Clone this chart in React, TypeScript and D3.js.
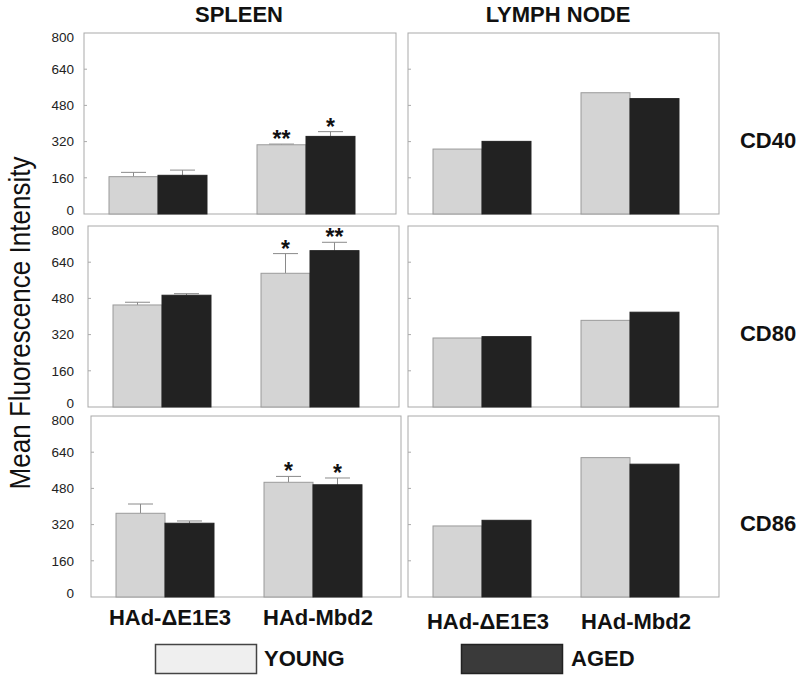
import React from "react";
import * as d3 from "d3";

const groups = ["HAd-ΔE1E3", "HAd-Mbd2"];
const markers = ["CD40", "CD80", "CD86"];
const series = ["YOUNG", "AGED"];
const yTicks = [0, 160, 320, 480, 640, 800];

// rows = markers (CD40, CD80, CD86), columns = groups
const spleenYoung = [[165, 306], [451, 591], [370, 507]];
const spleenYoungErr = [[184, 309], [463, 678], [411, 533]];
const spleenAged = [[171, 343], [494, 691], [326, 496]];
const spleenAgedErr = [[194, 364], [501, 728], [336, 526]];
const spleenYoungSig = [["", "**"], ["", "*"], ["", "*"]];
const spleenAgedSig = [["", "*"], ["", "**"], ["", "*"]];
const lymphYoung = [[287, 536], [305, 383], [314, 616]];
const lymphAged = [[321, 510], [311, 419], [339, 587]];

const W = 800;
const H = 678;
const rowY = [[33, 214], [226, 407], [416, 597]];
const leftX = [[84, 396], [88, 399], [91, 401]];
const rightX = [[408, 719], [408, 718], [408, 719]];

const FONT = "'Liberation Sans', Arial, Helvetica, sans-serif";
const YOUNG_FILL = "#d4d4d4";
const YOUNG_STROKE = "#9a9a9a";
const AGED_FILL = "#222222";
const FRAME = "#a9a9a9";

function Panel({ x0, x1, y0, y1, young, aged, youngErr, agedErr, youngSig, agedSig, showLabels }: any) {
  const y = d3.scaleLinear().domain([0, 800]).range([y1, y0]);
  const x = d3.scaleBand().domain(groups).range([x0, x0 + 296]).paddingInner(0.338).paddingOuter(0.169);
  const xs = d3.scaleBand().domain(series).range([0, x.bandwidth()]);
  const bw = xs.bandwidth();
  const vals = [young, aged];
  const errs = [youngErr, agedErr];
  const sigs = [youngSig, agedSig];
  const labelShift = (t: number) => (t === 800 ? 4.5 : t === 0 ? -4 : 0);
  return (
    <g>
      <rect x={x0} y={y0} width={x1 - x0} height={y1 - y0} fill="white" stroke={FRAME} strokeWidth={1} />
      {yTicks.slice(1, -1).map((t) => (
        <line key={"t" + t} x1={x0} x2={x0 + 3} y1={y(t)} y2={y(t)} stroke="#aaa" strokeWidth={1} />
      ))}
      {showLabels &&
        yTicks.map((t) => (
          <text
            key={"l" + t}
            x={74}
            y={y(t) + labelShift(t)}
            dy="0.36em"
            textAnchor="end"
            fontFamily={FONT}
            fontSize={13.5}
            fill="#222"
          >
            {t}
          </text>
        ))}
      {groups.map((g, gi) =>
        series.map((s, si) => {
          const v = vals[si][gi];
          const bx = (x(g) as number) + (xs(s) as number);
          const cx = bx + bw / 2;
          const e = errs[si] ? errs[si][gi] : null;
          const sig = sigs[si] ? sigs[si][gi] : "";
          return (
            <g key={g + s}>
              {e != null && (
                <g stroke="#8a8a8a" strokeWidth={1}>
                  <line x1={cx} x2={cx} y1={y(v)} y2={y(e)} />
                  <line x1={cx - 12.5} x2={cx + 12.5} y1={y(e)} y2={y(e)} />
                </g>
              )}
              <rect
                x={bx}
                y={y(v)}
                width={bw}
                height={y(0) - y(v)}
                fill={si === 0 ? YOUNG_FILL : AGED_FILL}
                stroke={si === 0 ? YOUNG_STROKE : AGED_FILL}
                strokeWidth={1}
              />
              {sig && e != null && (
                <text x={cx} y={y(e) + 3} textAnchor="middle" fontFamily={FONT} fontWeight="bold" fontSize={23} fill="#111">
                  {sig}
                </text>
              )}
            </g>
          );
        })
      )}
    </g>
  );
}

export default function App() {
  const xLab = d3.scaleBand().domain(groups).range([leftX[2][0], leftX[2][0] + 296]).paddingInner(0.338).paddingOuter(0.169);
  const xLabR = d3.scaleBand().domain(groups).range([rightX[2][0], rightX[2][0] + 296]).paddingInner(0.338).paddingOuter(0.169);
  return (
    <svg width={W} height={H} style={{ position: "absolute", left: 0, top: 0, background: "white" }}>
      <rect x={0} y={0} width={W} height={H} fill="white" />
      <text x={239} y={22} textAnchor="middle" fontFamily={FONT} fontWeight="bold" fontSize={22} fill="#111">
        SPLEEN
      </text>
      <text x={558} y={22} textAnchor="middle" fontFamily={FONT} fontWeight="bold" fontSize={22} fill="#111">
        LYMPH NODE
      </text>
      <text
        transform="translate(30,323) rotate(-90)"
        textAnchor="middle"
        fontFamily={FONT}
        fontSize={29}
        textLength={333}
        lengthAdjust="spacingAndGlyphs"
        fill="#111"
      >
        Mean Fluorescence Intensity
      </text>
      {markers.map((m, mi) => (
        <g key={m}>
          <Panel
            x0={leftX[mi][0]}
            x1={leftX[mi][1]}
            y0={rowY[mi][0]}
            y1={rowY[mi][1]}
            young={spleenYoung[mi]}
            aged={spleenAged[mi]}
            youngErr={spleenYoungErr[mi]}
            agedErr={spleenAgedErr[mi]}
            youngSig={spleenYoungSig[mi]}
            agedSig={spleenAgedSig[mi]}
            showLabels={true}
          />
          <Panel
            x0={rightX[mi][0]}
            x1={rightX[mi][1]}
            y0={rowY[mi][0]}
            y1={rowY[mi][1]}
            young={lymphYoung[mi]}
            aged={lymphAged[mi]}
            showLabels={false}
          />
          <text
            x={768}
            y={(rowY[mi][0] + rowY[mi][1]) / 2 + 24}
            textAnchor="middle"
            fontFamily={FONT}
            fontWeight="bold"
            fontSize={22}
            fill="#111"
          >
            {m}
          </text>
        </g>
      ))}
      {groups.map((g) => (
        <text
          key={"xl" + g}
          x={(xLab(g) as number) + xLab.bandwidth() / 2 + 5}
          y={625}
          textAnchor="middle"
          fontFamily={FONT}
          fontWeight="bold"
          fontSize={22}
          fill="#111"
        >
          {g}
        </text>
      ))}
      {groups.map((g) => (
        <text
          key={"xr" + g}
          x={(xLabR(g) as number) + xLabR.bandwidth() / 2 + 6}
          y={629}
          textAnchor="middle"
          fontFamily={FONT}
          fontWeight="bold"
          fontSize={22}
          fill="#111"
        >
          {g}
        </text>
      ))}
      <rect x={155.5} y={644.5} width={101} height={29} fill="#efefef" stroke="#444" strokeWidth={1.5} />
      <text x={264} y={666} fontFamily={FONT} fontWeight="bold" fontSize={22} fill="#111">
        {series[0]}
      </text>
      <rect x={461.5} y={644.5} width={101} height={29} fill="#3a3a3a" stroke="#222" strokeWidth={1.5} />
      <text x={571} y={666} fontFamily={FONT} fontWeight="bold" fontSize={22} fill="#111">
        {series[1]}
      </text>
    </svg>
  );
}
